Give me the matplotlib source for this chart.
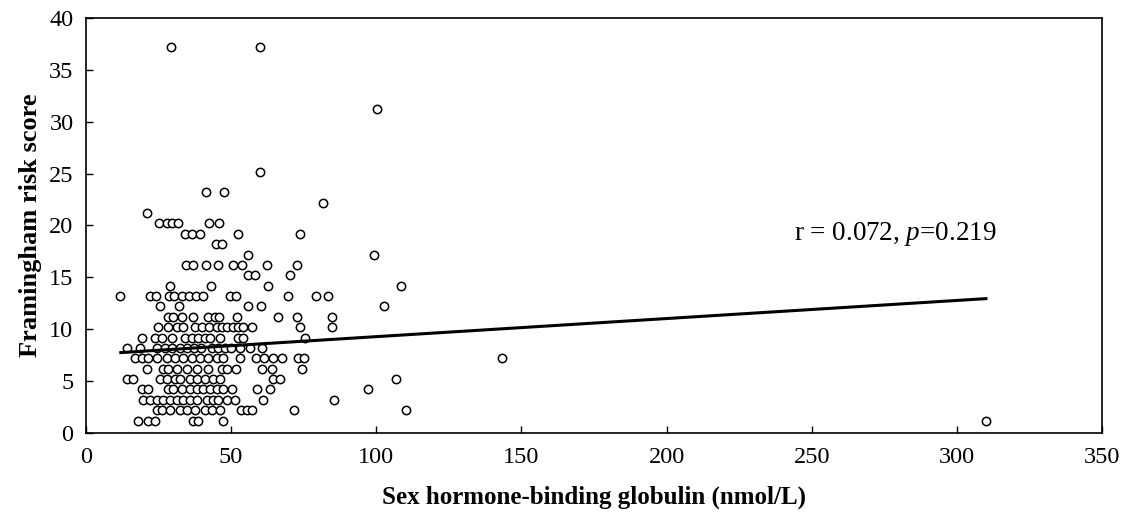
import matplotlib.pyplot as plt

# SHBG (nmol/L) and Framingham risk score
shbg = [
    18.0, 21.5, 23.8, 37.0, 38.7, 47.3, 310.0,
    24.3, 26.1, 28.9, 32.4, 34.7, 37.5, 41.0, 43.3, 46.2, 53.3, 55.4, 57.1, 71.5, 110.2,
    19.7, 22.0, 24.3, 26.6, 28.9, 31.2, 33.5, 35.8, 38.1, 41.6, 43.9, 45.6, 48.5, 51.3, 61.1, 85.3,
    19.2, 21.5, 28.4, 30.1, 33.0, 35.8, 38.1, 40.4, 42.7, 45.0, 47.3, 50.2, 58.8, 63.4, 97.3,
    14.0, 16.3, 25.5, 28.0, 30.7, 32.4, 35.8, 38.1, 41.0, 43.6, 46.2, 64.5, 66.8, 106.8,
    20.9, 26.6, 28.4, 31.2, 34.7, 38.1, 42.1, 46.7, 48.5, 51.6, 60.5, 64.0, 74.3,
    16.9, 19.2, 21.5, 24.3, 27.8, 30.7, 33.5, 36.4, 39.3, 42.1, 45.0, 47.3, 53.0, 58.5, 61.4, 64.5, 67.4, 73.1, 75.2, 143.3,
    14.0, 18.6, 24.3, 27.2, 29.5, 32.4, 34.7, 37.3, 39.8, 43.3, 45.6, 47.8, 50.0, 53.0, 56.5, 60.5,
    19.2, 23.8, 26.1, 29.7, 34.1, 36.4, 38.7, 41.0, 42.9, 46.2, 52.4, 54.0, 75.4,
    24.9, 28.4, 31.2, 33.5, 37.5, 39.9, 42.4, 45.0, 46.8, 48.5, 50.5, 52.5, 54.2, 57.1, 73.7, 84.8,
    28.4, 30.1, 33.0, 37.0, 42.1, 44.4, 46.0, 51.9, 66.2, 72.8, 84.7,
    25.6, 32.2, 55.9, 60.4, 102.8,
    11.7, 22.0, 24.1, 28.6, 30.5, 33.0, 35.5, 37.8, 40.4, 49.6, 51.7, 69.7, 79.1, 83.5,
    29.1, 43.1, 62.8, 108.5,
    55.9, 58.2, 70.3,
    34.3, 37.0, 41.3, 45.6, 50.6, 53.6, 62.2, 72.8,
    55.9, 99.3,
    44.8, 46.7,
    34.2, 36.7, 39.3, 52.5, 73.7,
    25.1, 27.8, 29.5, 31.6, 42.5, 46.0,
    20.9,
    81.8,
    41.3, 47.5,
    59.9,
    100.1,
    29.2, 59.9,
]
frs = [
    1.2, 1.2, 1.2, 1.2, 1.2, 1.2, 1.2,
    2.2, 2.2, 2.2, 2.2, 2.2, 2.2, 2.2, 2.2, 2.2, 2.2, 2.2, 2.2, 2.2, 2.2,
    3.2, 3.2, 3.2, 3.2, 3.2, 3.2, 3.2, 3.2, 3.2, 3.2, 3.2, 3.2, 3.2, 3.2, 3.2, 3.2,
    4.2, 4.2, 4.2, 4.2, 4.2, 4.2, 4.2, 4.2, 4.2, 4.2, 4.2, 4.2, 4.2, 4.2, 4.2,
    5.2, 5.2, 5.2, 5.2, 5.2, 5.2, 5.2, 5.2, 5.2, 5.2, 5.2, 5.2, 5.2, 5.2,
    6.2, 6.2, 6.2, 6.2, 6.2, 6.2, 6.2, 6.2, 6.2, 6.2, 6.2, 6.2, 6.2,
    7.2, 7.2, 7.2, 7.2, 7.2, 7.2, 7.2, 7.2, 7.2, 7.2, 7.2, 7.2, 7.2, 7.2, 7.2, 7.2, 7.2, 7.2, 7.2, 7.2,
    8.2, 8.2, 8.2, 8.2, 8.2, 8.2, 8.2, 8.2, 8.2, 8.2, 8.2, 8.2, 8.2, 8.2, 8.2, 8.2,
    9.2, 9.2, 9.2, 9.2, 9.2, 9.2, 9.2, 9.2, 9.2, 9.2, 9.2, 9.2, 9.2,
    10.2, 10.2, 10.2, 10.2, 10.2, 10.2, 10.2, 10.2, 10.2, 10.2, 10.2, 10.2, 10.2, 10.2, 10.2, 10.2,
    11.2, 11.2, 11.2, 11.2, 11.2, 11.2, 11.2, 11.2, 11.2, 11.2, 11.2,
    12.2, 12.2, 12.2, 12.2, 12.2,
    13.2, 13.2, 13.2, 13.2, 13.2, 13.2, 13.2, 13.2, 13.2, 13.2, 13.2, 13.2, 13.2, 13.2,
    14.2, 14.2, 14.2, 14.2,
    15.2, 15.2, 15.2,
    16.2, 16.2, 16.2, 16.2, 16.2, 16.2, 16.2, 16.2,
    17.2, 17.2,
    18.2, 18.2,
    19.2, 19.2, 19.2, 19.2, 19.2,
    20.2, 20.2, 20.2, 20.2, 20.2, 20.2,
    21.2,
    22.2,
    23.2, 23.2,
    25.2,
    31.2,
    37.2, 37.2,
]

# linear trend line end points
trend_x = [12.0, 310.0]
trend_y = [7.75, 12.95]

x_ticks = [0, 50, 100, 150, 200, 250, 300, 350]
y_ticks = [0, 5, 10, 15, 20, 25, 30, 35, 40]

plt.rcParams['font.family'] = ['Liberation Serif', 'DejaVu Serif']
plt.rcParams['mathtext.fontset'] = 'custom'
plt.rcParams['mathtext.it'] = 'Liberation Serif:italic'
plt.rcParams['mathtext.rm'] = 'Liberation Serif'

fig = plt.figure(figsize=(11.28, 5.29), dpi=100)
ax = fig.add_axes([0.0762, 0.1815, 0.9008, 0.7845])

ax.scatter(shbg, frs, s=36, facecolors='white', edgecolors='black',
           linewidths=1.1, zorder=2)
ax.plot(trend_x, trend_y, color='black', linewidth=2.2, zorder=3)

ax.text(244, 18.6, r'r = 0.072, $p$=0.219', fontsize=19.5,
        ha='left', va='baseline')

ax.set_xlim(0, 350)
ax.set_ylim(0, 40)
ax.set_xticks(x_ticks)
ax.set_yticks(y_ticks)
ax.tick_params(direction='in', length=5, width=1, labelsize=17.5)
ax.tick_params(axis='x', pad=10)
ax.tick_params(axis='y', pad=9)
for sp in ax.spines.values():
    sp.set_linewidth(1.2)

ax.set_xlabel('Sex hormone-binding globulin (nmol/L)', fontsize=18,
              fontweight='bold', labelpad=13)
ax.set_ylabel('Framingham risk score', fontsize=19, fontweight='bold',
              labelpad=5)

fig.savefig('out.png', dpi=100, facecolor='white')
